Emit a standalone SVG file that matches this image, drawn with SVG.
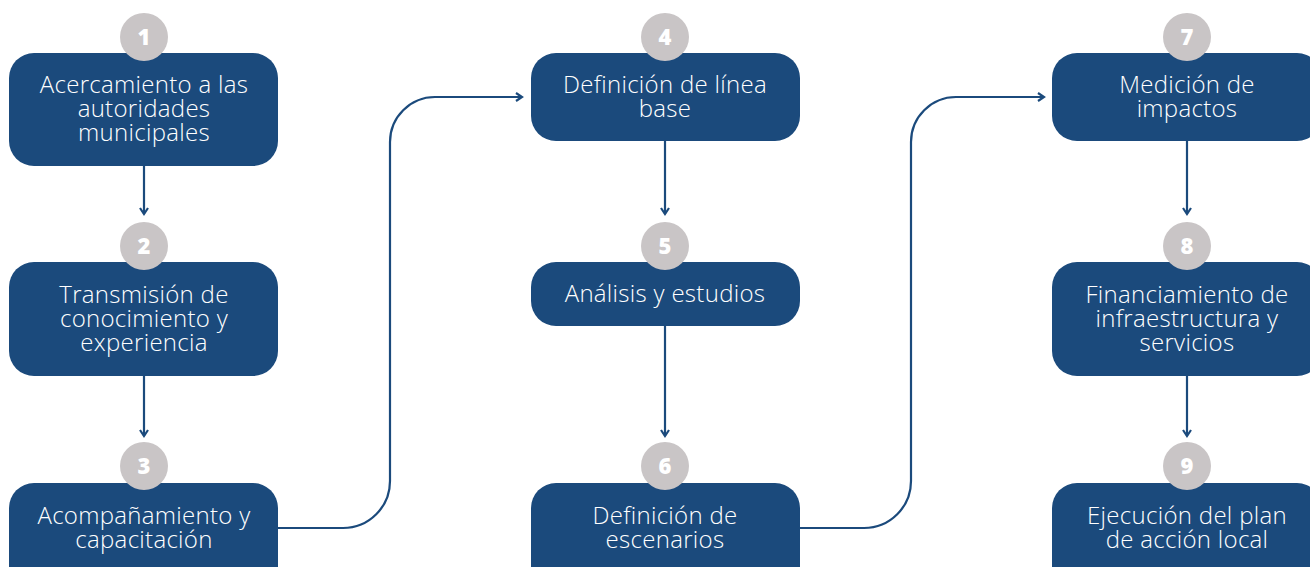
<svg xmlns="http://www.w3.org/2000/svg" width="1310" height="567" viewBox="0 0 1310 567">
<defs>
<style>
.box{fill:#1b4a7c}
.num{fill:#c9c5c6}
.nt{font-family:"Open Sans","Liberation Sans",sans-serif;font-weight:800;font-size:22px;fill:#ffffff;text-anchor:middle}
.lb{font-family:"Open Sans","Liberation Sans",sans-serif;font-weight:300;font-size:24px;letter-spacing:0.3px;fill:#ffffff;text-anchor:middle}
.ln{fill:none;stroke:#1b4a7c;stroke-width:2.2}
</style>
<marker id="ah" markerWidth="10" markerHeight="10" refX="8" refY="5" orient="auto" markerUnits="userSpaceOnUse">
<path d="M2,1 L8,5 L2,9" fill="none" stroke="#1b4a7c" stroke-width="2.2"/>
</marker>
</defs>
<rect width="1310" height="567" fill="#ffffff"/>
<g id="connectors">
<line class="ln" x1="144" y1="166" x2="144" y2="214" marker-end="url(#ah)"/>
<line class="ln" x1="144" y1="376" x2="144" y2="436" marker-end="url(#ah)"/>
<line class="ln" x1="665" y1="141" x2="665" y2="214" marker-end="url(#ah)"/>
<line class="ln" x1="665" y1="326" x2="665" y2="436" marker-end="url(#ah)"/>
<line class="ln" x1="1187" y1="141" x2="1187" y2="214" marker-end="url(#ah)"/>
<line class="ln" x1="1187" y1="376" x2="1187" y2="436" marker-end="url(#ah)"/>
<path class="ln" d="M278,528 H343 A47,47 0 0 0 390,481 V142 A45,45 0 0 1 435,97 H522" marker-end="url(#ah)"/>
<path class="ln" d="M800,528 H864 A47,47 0 0 0 911,481 V142 A45,45 0 0 1 956,97 H1044" marker-end="url(#ah)"/>
</g>
<g id="node1">
<rect class="box" x="9" y="53" width="269" height="113" rx="25"/>
<circle class="num" cx="144" cy="37" r="24"/>
<text class="nt" x="144" y="45">1</text>
<text class="lb" x="144" y="93">Acercamiento a las</text>
<text class="lb" x="144" y="117">autoridades</text>
<text class="lb" x="144" y="141">municipales</text>
</g>
<g id="node2">
<rect class="box" x="9" y="262" width="269" height="114" rx="25"/>
<circle class="num" cx="144" cy="246" r="24"/>
<text class="nt" x="144" y="254">2</text>
<text class="lb" x="144" y="303">Transmisión de</text>
<text class="lb" x="144" y="327">conocimiento y</text>
<text class="lb" x="144" y="351">experiencia</text>
</g>
<g id="node3">
<rect class="box" x="9" y="483" width="269" height="110" rx="25"/>
<circle class="num" cx="144" cy="466" r="24"/>
<text class="nt" x="144" y="474">3</text>
<text class="lb" x="144" y="524">Acompañamiento y</text>
<text class="lb" x="144" y="548">capacitación</text>
</g>
<g id="node4">
<rect class="box" x="531" y="53" width="269" height="88" rx="25"/>
<circle class="num" cx="665" cy="37" r="24"/>
<text class="nt" x="665" y="45">4</text>
<text class="lb" x="665" y="93">Definición de línea</text>
<text class="lb" x="665" y="117">base</text>
</g>
<g id="node5">
<rect class="box" x="531" y="262" width="269" height="64" rx="25"/>
<circle class="num" cx="665" cy="246" r="24"/>
<text class="nt" x="665" y="254">5</text>
<text class="lb" x="665" y="302">Análisis y estudios</text>
</g>
<g id="node6">
<rect class="box" x="531" y="483" width="269" height="110" rx="25"/>
<circle class="num" cx="665" cy="466" r="24"/>
<text class="nt" x="665" y="474">6</text>
<text class="lb" x="665" y="524">Definición de</text>
<text class="lb" x="665" y="548">escenarios</text>
</g>
<g id="node7">
<rect class="box" x="1052" y="53" width="270" height="88" rx="25"/>
<circle class="num" cx="1187" cy="37" r="24"/>
<text class="nt" x="1187" y="45">7</text>
<text class="lb" x="1187" y="93">Medición de</text>
<text class="lb" x="1187" y="117">impactos</text>
</g>
<g id="node8">
<rect class="box" x="1052" y="262" width="270" height="114" rx="25"/>
<circle class="num" cx="1187" cy="246" r="24"/>
<text class="nt" x="1187" y="254">8</text>
<text class="lb" x="1187" y="303">Financiamiento de</text>
<text class="lb" x="1187" y="327">infraestructura y</text>
<text class="lb" x="1187" y="351">servicios</text>
</g>
<g id="node9">
<rect class="box" x="1052" y="483" width="270" height="110" rx="25"/>
<circle class="num" cx="1187" cy="466" r="24"/>
<text class="nt" x="1187" y="474">9</text>
<text class="lb" x="1187" y="524">Ejecución del plan</text>
<text class="lb" x="1187" y="548">de acción local</text>
</g>
</svg>
